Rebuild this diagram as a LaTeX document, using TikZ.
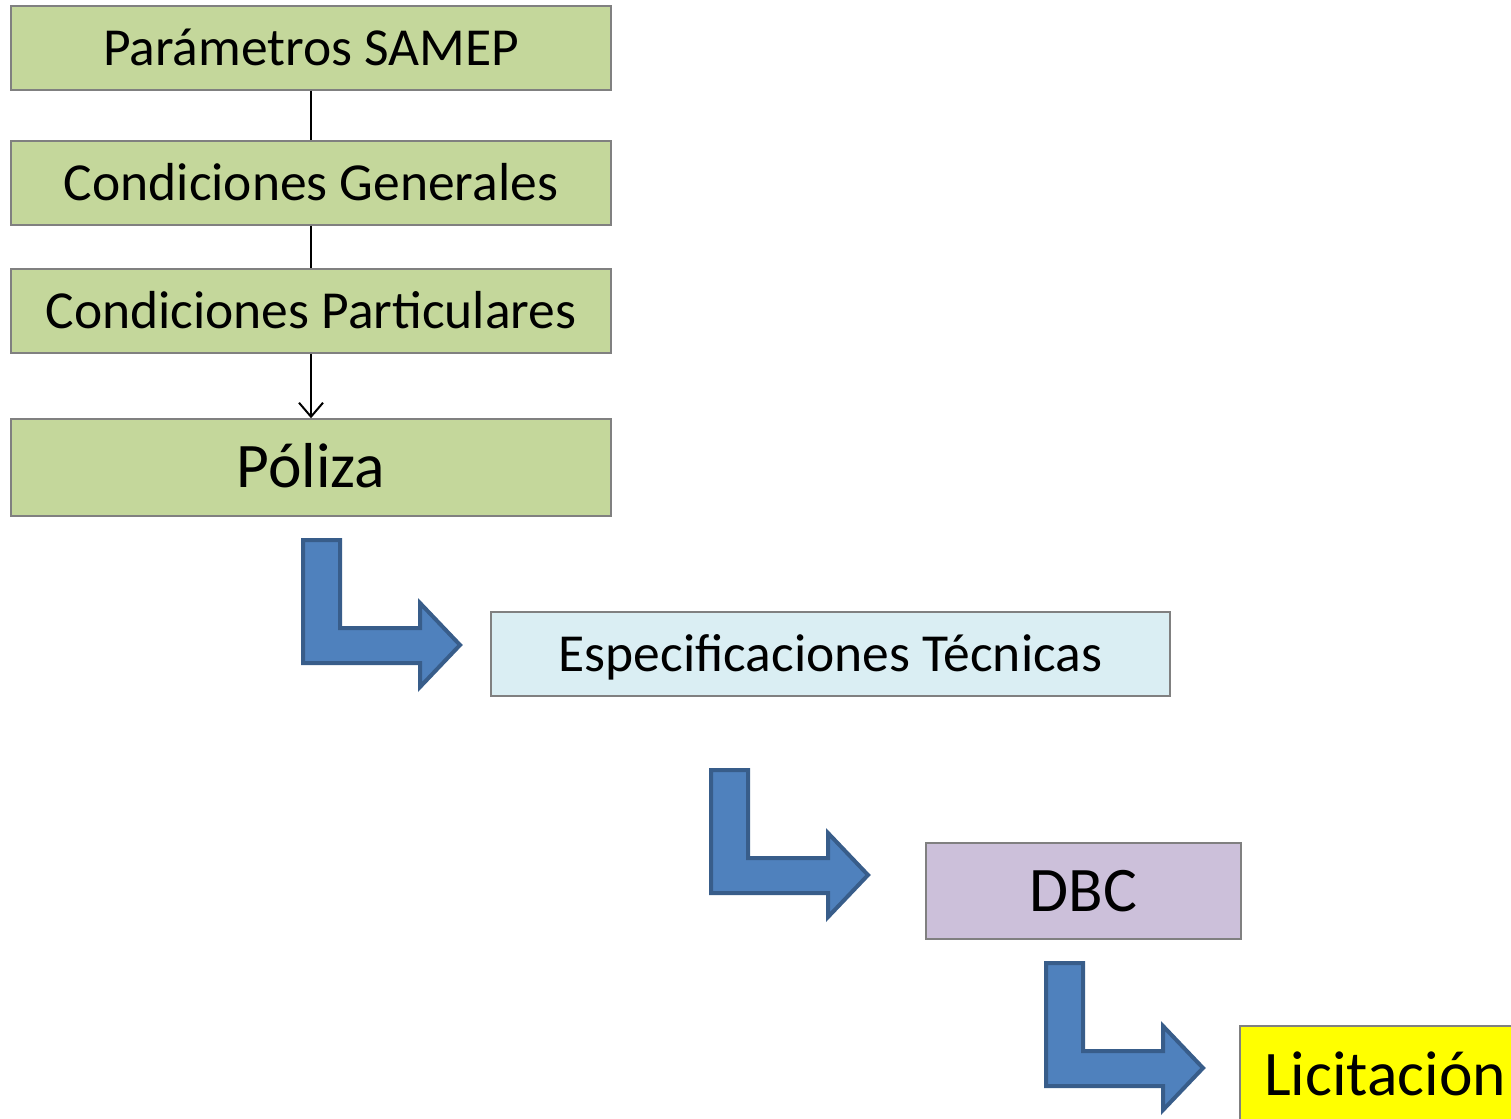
\documentclass[tikz,border=0pt]{standalone}
\usepackage{fontspec}
\setmainfont{Carlito}
\usetikzlibrary{arrows.meta}
\definecolor{boxgreen}{HTML}{C4D79B}
\definecolor{boxblue}{HTML}{DAEEF3}
\definecolor{boxpurple}{HTML}{CCC0DA}
\definecolor{boxyellow}{HTML}{FFFF00}
\definecolor{arrowfill}{HTML}{4F81BD}
\definecolor{arrowline}{HTML}{385D8A}
\definecolor{boxline}{HTML}{808080}
\tikzset{
  stepbox/.style={draw=boxline, line width=1.5pt, rectangle, inner sep=0pt,
    font=\fontsize{53.5}{60}\selectfont, text height=34.2pt, text depth=0pt},
  bigbox/.style={stepbox, font=\fontsize{63.5}{70}\selectfont, text height=40.6pt},
  conn/.style={line width=2pt, black},
  arrowstyle/.style={draw=arrowline, fill=arrowfill, line width=4pt, line join=miter},
  bentarrow/.pic={\path[arrowstyle] (0,0) -- (37,0) -- (37,88) -- (117,88) -- (117,63) -- (157,105) -- (117,147) -- (117,123) -- (0,123) -- cycle;}
}
\begin{document}
\begin{tikzpicture}[x=1pt,y=-1pt]
\useasboundingbox (0,0) rectangle (1511,1118);
\node[stepbox, fill=boxgreen, minimum width=600pt, minimum height=84pt] (p1) at (311,48) {Parámetros SAMEP};
\node[stepbox, fill=boxgreen, minimum width=600pt, minimum height=84pt] (p2) at (311,183) {Condiciones Generales};
\node[stepbox, fill=boxgreen, minimum width=600pt, minimum height=84pt] (p3) at (311,311) {Condiciones Particulares};
\node[bigbox, fill=boxgreen, minimum width=600pt, minimum height=97pt] (p4) at (311,467.5) {Póliza};
\node[stepbox, fill=boxblue, minimum width=679pt, minimum height=84pt] (esp) at (830.5,654) {Especificaciones Técnicas};
\node[bigbox, fill=boxpurple, minimum width=315pt, minimum height=96pt] (dbc) at (1083.5,891) {DBC};
\node[bigbox, fill=boxyellow, minimum width=290pt, minimum height=98pt] (lic) at (1385,1075) {Licitación};
\draw[conn] (p1.south) -- (p2.north);
\draw[conn] (p2.south) -- (p3.north);
\draw[conn, -{Straight Barb[length=14pt,width=24pt,line width=2pt]}] (p3.south) -- (p4.north);
\pic at (303,540) {bentarrow};
\pic at (711,770) {bentarrow};
\pic at (1046,963) {bentarrow};
\end{tikzpicture}
\end{document}
